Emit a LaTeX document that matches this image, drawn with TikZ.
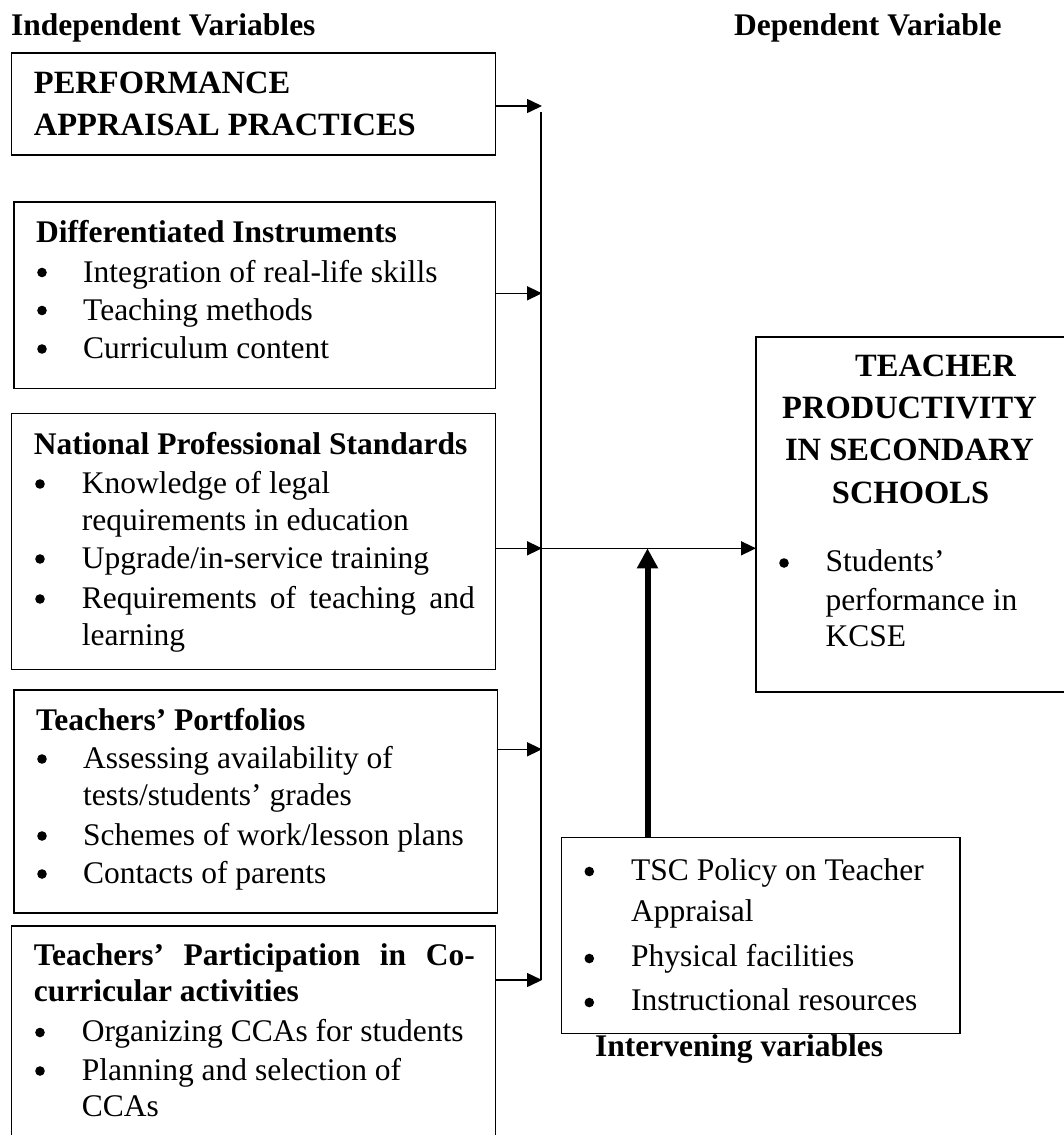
\documentclass[tikz,border=0pt]{standalone}
\usepackage{fontspec}
\setmainfont{Liberation Serif}
\usetikzlibrary{arrows.meta}
\begin{document}
\begin{tikzpicture}[x=1pt,y=-1pt,
  box/.style={draw, line width=1.6pt, rectangle, inner sep=0pt, outer sep=0pt, anchor=north west},
  txt/.style={anchor=base west, inner sep=0pt, font=\fontsize{31.5}{38}\selectfont},
  hd/.style={txt, font=\fontsize{31.5}{38}\selectfont\bfseries},
  big/.style={anchor=base west, inner sep=0pt, font=\fontsize{32.5}{42}\selectfont\bfseries},
  conn/.style={line width=1.5pt},
  arr/.style={conn, -{Triangle[length=15pt,width=14pt]}},
  thickarr/.style={line width=6pt, -{Triangle[length=20pt,width=20pt]}},
  bul/.style={fill=black}
]
\useasboundingbox (0,0) rectangle (1064,1135);
\clip (0,0) rectangle (1064,1135);

% column headings
\node[hd] (indep) at (11,35) {Independent Variables};
\node[hd] (dep) at (734,35) {Dependent Variable};

% independent variable boxes
\node[box, minimum width=484pt, minimum height=102.3pt] (b1) at (11.5,52.7) {};
\node[box, minimum width=481.7pt, minimum height=186.6pt] (b2) at (13.8,201.7) {};
\node[box, minimum width=484pt, minimum height=256pt] (b3) at (11.5,413.3) {};
\node[box, minimum width=483.7pt, minimum height=222.7pt] (b4) at (13.8,690) {};
\node[box, minimum width=484pt, minimum height=219pt] (b5) at (11.5,926) {};

% dependent variable box and intervening variables box
\node[box, minimum width=314pt, minimum height=355pt] (tp) at (756,336.7) {};
\node[box, minimum width=398.5pt, minimum height=196.2pt] (iv) at (561.5,837.3) {};

% box 1
\node[big] (t11) at (33.7,93.3) {PERFORMANCE};
\node[big] (t12) at (33.7,135) {APPRAISAL PRACTICES};

% box 2
\node[hd] (t20) at (36,242) {Differentiated Instruments};
\fill[bul] (42,272.5) circle (4.8);
\node[txt] (t21) at (83,282.3) {Integration of real-life skills};
\fill[bul] (42,310.5) circle (4.8);
\node[txt] (t22) at (83,320) {Teaching methods};
\fill[bul] (42,349) circle (4.8);
\node[txt] (t23) at (83,358.3) {Curriculum content};

% box 3
\node[hd] (t30) at (33.7,454) {National Professional Standards};
\fill[bul] (40,484) circle (4.8);
\node[txt] (t31) at (81.6,493.3) {Knowledge of legal};
\node[txt] (t32) at (81.6,530) {requirements in education};
\fill[bul] (40,559) circle (4.8);
\node[txt] (t33) at (81.6,568.3) {Upgrade/in-service training};
\fill[bul] (40,599) circle (4.8);
\node[txt] (t34) at (81.6,608.3) {\makebox[393pt][s]{Requirements of teaching and}};
\node[txt] (t35) at (81.6,645) {learning};

% box 4
\node[hd] (t40) at (36,730) {Teachers’ Portfolios};
\fill[bul] (42,759) circle (4.8);
\node[txt] (t41) at (83,768.3) {Assessing availability of};
\node[txt] (t42) at (83,805) {tests/students’ grades};
\fill[bul] (42,836) circle (4.8);
\node[txt] (t43) at (83,845) {Schemes of work/lesson plans};
\fill[bul] (42,874) circle (4.8);
\node[txt] (t44) at (83,883.3) {Contacts of parents};

% box 5
\node[hd] (t50) at (33.7,965) {\makebox[441pt][s]{Teachers’ Participation in Co-}};
\node[hd] (t51) at (33.7,1001.7) {curricular activities};
\fill[bul] (40,1032.5) circle (4.8);
\node[txt] (t52) at (81.6,1041.7) {Organizing CCAs for students};
\fill[bul] (40,1071) circle (4.8);
\node[txt] (t53) at (81.6,1080) {Planning and selection of};
\node[txt] (t54) at (81.6,1116.7) {CCAs};

% dependent variable text
\node[big, anchor=base] (d1) at (935.5,376.7) {TEACHER};
\node[big, anchor=base] (d2) at (909.5,418.3) {PRODUCTIVITY};
\node[big, anchor=base] (d3) at (909.5,460) {IN SECONDARY};
\node[big, anchor=base] (d4) at (910.5,503.3) {SCHOOLS};
\fill[bul] (784,563) circle (4.8);
\node[txt] (d5) at (825.5,571.7) {Students’};
\node[txt] (d6) at (825.5,610) {performance in};
\node[txt] (d7) at (825.5,646.7) {KCSE};

% intervening variables text
\fill[bul] (589.3,871.5) circle (4.8);
\node[txt] (i1) at (631,880) {TSC Policy on Teacher};
\node[txt] (i2) at (631,921.7) {Appraisal};
\fill[bul] (589.3,958.5) circle (4.8);
\node[txt] (i3) at (631,966.7) {Physical facilities};
\fill[bul] (589.3,1002.5) circle (4.8);
\node[txt] (i4) at (631,1010.7) {Instructional resources};
\node[hd] (ivl) at (595,1056.7) {Intervening variables};

% junction points on the collecting line
\coordinate (vtop) at (541,112);
\coordinate (vbot) at (541,980);
\coordinate (j1) at (542,106);
\coordinate (j2) at (542,293.3);
\coordinate (j3) at (542,548.3);
\coordinate (j4) at (542,749.3);
\coordinate (j5) at (542,980);
\coordinate (m) at (647.5,548.3);

% connectors
\draw[conn] (vtop) -- (vbot);
\draw[arr] (b1.east |- j1) -- (j1);
\draw[arr] (b2.east |- j2) -- (j2);
\draw[arr] (b3.east |- j3) -- (j3);
\draw[arr] (b4.east |- j4) -- (j4);
\draw[arr] (b5.east |- j5) -- (j5);
\draw[arr] (j3) -- (tp.west |- j3);
\draw[thickarr] (iv.north -| m) -- (m);
\end{tikzpicture}
\end{document}
